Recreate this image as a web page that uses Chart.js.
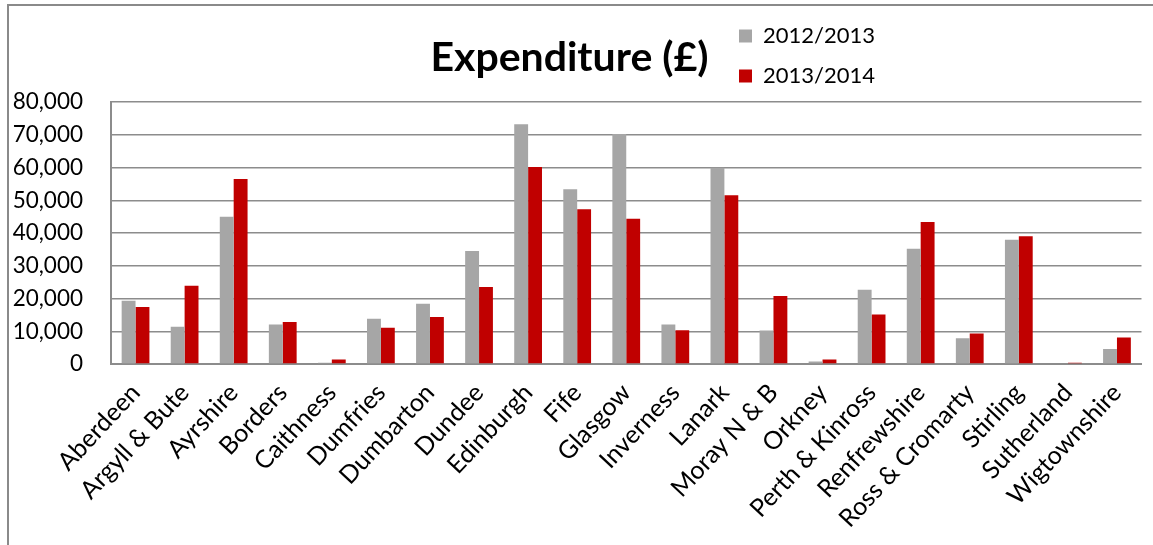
<!DOCTYPE html>
<html>
<head>
<meta charset="utf-8">
<script src="https://cdn.jsdelivr.net/npm/chart.js@4"></script>
<style>
  html, body { margin: 0; padding: 0; background: #fff; }
  #frame {
    position: absolute; left: 7px; top: 4px;
    width: 1146px; height: 541px;
    border-left: 2px solid #8a8a8a; border-top: 2px solid #8a8a8a;
  }
  #chart { display: block; }
</style>
</head>
<body>
<div id="frame"><canvas id="chart" width="1144" height="539"></canvas></div>
<script>
// regions
const regions = ["Aberdeen", "Argyll & Bute", "Ayrshire", "Borders", "Caithness", "Dumfries",
  "Dumbarton", "Dundee", "Edinburgh", "Fife", "Glasgow", "Inverness", "Lanark", "Moray N & B",
  "Orkney", "Perth & Kinross", "Renfrewshire", "Ross & Cromarty", "Stirling", "Sutherland",
  "Wigtownshire"];

// spend per year
const spend2012 = [19300, 11400, 45000, 12100, 400, 13800, 18400, 34500, 73300, 53400, 70300,
  12100, 60000, 10200, 800, 22700, 35200, 7900, 38000, 0, 4600];
const spend2013 = [17400, 23900, 56500, 12800, 1400, 11100, 14400, 23500, 60200, 47300, 44400,
  10300, 51600, 20800, 1400, 15100, 43400, 9300, 39000, 400, 8100];

const years = ["2012/2013", "2013/2014"];
const yearColors = ["#a6a6a6", "#c00000"];

const gridGrey = "#8c8c8c";
const font = "Lato";

// put the legend beside the title and nudge the title left a bit
const placeBoxes = {
  id: "placeBoxes",
  afterLayout(chart) {
    const lg = chart.legend;
    lg.left = 712; lg.right = 900;
    lg.top = 1; lg.bottom = 120;
    chart.titleBlock.right -= 19;
  }
};

new Chart("chart", {
  type: "bar",
  data: {
    labels: regions,
    datasets: [
      { label: years[0], data: spend2012, backgroundColor: yearColors[0] },
      { label: years[1], data: spend2013, backgroundColor: yearColors[1] }
    ]
  },
  options: {
    responsive: false,
    animation: false,
    categoryPercentage: 0.566,
    barPercentage: 1,
    layout: { padding: { left: 0, right: 4, top: 0, bottom: 0 } },
    plugins: {
      title: {
        display: true,
        text: "Expenditure (£)",
        color: "#000",
        font: { family: font, size: 41, weight: "bold", lineHeight: 1.2 },
        padding: { top: 27, bottom: 20 }
      },
      legend: {
        position: "chartArea",
        align: "start",
        labels: {
          color: "#000",
          font: { family: font, size: 22 },
          boxWidth: 13,
          boxHeight: 13,
          padding: 18
        }
      },
      tooltip: { enabled: false }
    },
    scales: {
      x: {
        grid: { display: false, drawTicks: false },
        border: { color: gridGrey, width: 2 },
        ticks: {
          color: "#000",
          font: { family: font, size: 25 },
          autoSkip: false,
          minRotation: 47,
          maxRotation: 47,
          padding: 14
        },
        afterFit(scale) { scale.height = 181; }
      },
      y: {
        min: 0,
        max: 80000,
        grid: { color: gridGrey, lineWidth: 1.5, drawTicks: false },
        border: { color: gridGrey, width: 2 },
        ticks: {
          stepSize: 10000,
          color: "#000",
          font: { family: font, size: 22.5 },
          padding: 28
        },
        afterFit(scale) { scale.width = 102; }
      }
    }
  },
  plugins: [placeBoxes]
});
</script>
</body>
</html>
